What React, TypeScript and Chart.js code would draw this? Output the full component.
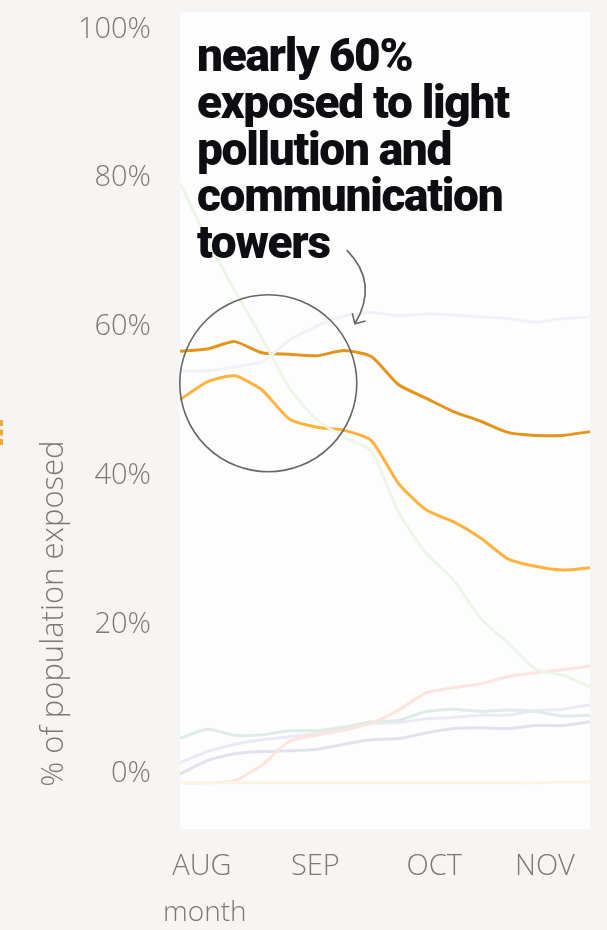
import React, { useEffect, useRef } from "react";
import { Chart, registerables } from "chart.js";

Chart.register(...registerables);

// ---- data ----
const weeks = [0, 1, 2, 3, 4, 5, 6, 7, 8, 9, 10, 11, 12, 13, 14, 15];
const monthLabels = ["AUG", "SEP", "OCT", "NOV"];
const monthTickWeeks = [0.8, 4.95, 9.3, 13.35];
const yTickValues = [0, 20, 40, 60, 80, 100];

const lightPollutionAndTowers = [58.0, 58.3, 59.3, 57.8, 57.6, 57.4, 58.1, 57.3, 53.5, 51.7, 49.9, 48.6, 47.1, 46.7, 46.7, 47.2];
const lightPollutionAndRoads = [51.5, 53.9, 54.7, 52.8, 48.9, 47.8, 47.4, 46.0, 40.2, 36.7, 35.1, 32.9, 30.1, 29.1, 28.6, 28.9];
const greenSeries = [80.6, 73.0, 66.2, 59.8, 53.1, 48.8, 46.5, 44.6, 36.3, 30.9, 27.3, 22.1, 18.8, 15.3, 14.5, 12.9];
const lavenderHigh = [55.3, 55.4, 55.9, 56.6, 59.5, 61.4, 62.7, 63.2, 62.8, 63.0, 62.9, 62.6, 62.4, 61.9, 62.4, 62.6];
const pinkSeries = [0, 0, 0.3, 2.4, 5.6, 6.4, 7.1, 8.0, 9.8, 12.1, 12.8, 13.3, 14.3, 14.8, 15.2, 15.7];
const tealSeries = [6.0, 7.2, 6.4, 6.45, 7.0, 7.0, 7.5, 8.2, 8.4, 9.6, 9.9, 9.6, 9.8, 9.6, 9.0, 9.1];
const lavenderLow = [2.7, 4.2, 5.2, 5.8, 6.2, 6.65, 7.3, 8.0, 8.1, 8.6, 8.8, 9.1, 9.1, 9.7, 9.9, 10.5];
const blueGraySeries = [1.2, 3.0, 3.9, 4.2, 4.3, 4.5, 5.2, 5.8, 5.95, 6.7, 7.3, 7.4, 7.3, 7.7, 7.7, 8.2];
const creamSeries = [0, 0, 0, 0, 0, 0, 0, 0, 0, 0, 0, 0, 0, 0, 0.1, 0.1];

const annotationLines = ["nearly 60%", "exposed to light", "pollution and", "communication", "towers"];
const yAxisTitle = "% of population exposed";
const xAxisTitle = "month";

// annotation geometry in data units (week, percent)
const circleCenter = { x: 3.23, y: 53.7 };
const arrowStart = { x: 6.1, y: 71.6 };
const arrowControl = { x: 7.29, y: 67.2 };
const arrowEnd = { x: 6.4, y: 61.7 };

const GRAY = "#7e7874";
const PAGE_BG = "#f6f5f3";
const PLOT_BG = "#fdfdfd";
const FONT = "'Open Sans'";

const decorPlugin = {
  id: "decor",
  beforeDraw(chart: any) {
    const { ctx, chartArea: a, width, height } = chart;
    ctx.save();
    ctx.fillStyle = PAGE_BG;
    ctx.fillRect(0, 0, width, height);
    ctx.fillStyle = PLOT_BG;
    ctx.fillRect(a.left, a.top, a.right - a.left, a.bottom - a.top);
    ctx.restore();
  },
  afterDatasetsDraw(chart: any) {
    const { ctx } = chart;
    const xs = chart.scales.x;
    const ys = chart.scales.y;
    ctx.save();
    ctx.strokeStyle = "#666666";
    ctx.lineWidth = 1.6;
    // circle
    ctx.beginPath();
    ctx.arc(xs.getPixelForValue(circleCenter.x), ys.getPixelForValue(circleCenter.y), 88.5, 0, Math.PI * 2);
    ctx.stroke();
    // arrow
    const sx = xs.getPixelForValue(arrowStart.x), sy = ys.getPixelForValue(arrowStart.y);
    const cx = xs.getPixelForValue(arrowControl.x), cy = ys.getPixelForValue(arrowControl.y);
    const ex = xs.getPixelForValue(arrowEnd.x), ey = ys.getPixelForValue(arrowEnd.y);
    ctx.beginPath();
    ctx.moveTo(sx, sy);
    ctx.quadraticCurveTo(cx, cy, ex, ey);
    ctx.stroke();
    const ang = Math.atan2(cy - ey, cx - ex);
    const len = 11;
    ctx.beginPath();
    ctx.moveTo(ex + len * Math.cos(ang - 0.78), ey + len * Math.sin(ang - 0.78));
    ctx.lineTo(ex, ey);
    ctx.lineTo(ex + len * Math.cos(ang + 0.78), ey + len * Math.sin(ang + 0.78));
    ctx.stroke();
    ctx.restore();
  },
  afterDraw(chart: any) {
    const { ctx, chartArea: a } = chart;
    const ys = chart.scales.y;
    ctx.save();
    ctx.fillStyle = GRAY;
    ctx.textBaseline = "middle";
    ctx.textAlign = "left";
    // y title
    ctx.save();
    ctx.font = `300 31px ${FONT}`;
    ctx.translate(54, ys.getPixelForValue(0) + 4);
    ctx.rotate(-Math.PI / 2);
    ctx.fillText(yAxisTitle, 0, 0);
    ctx.restore();
    // x title
    ctx.font = `300 28px ${FONT}`;
    ctx.fillText(xAxisTitle, a.left - 17, 913);
    ctx.restore();
  },
};

function ds(label: string, data: number[], color: string) {
  return {
    label,
    data: data.map((v, i) => ({ x: weeks[i], y: v })),
    borderColor: color,
    backgroundColor: color,
    borderWidth: 3,
    pointRadius: 0,
    tension: 0.2,
    fill: false,
  };
}

function zeroPad(scale: any) {
  scale.paddingTop = 0;
  scale.paddingBottom = 0;
  scale.paddingLeft = 0;
  scale.paddingRight = 0;
}

export default function App() {
  const ref = useRef<HTMLCanvasElement | null>(null);

  useEffect(() => {
    document.body.style.margin = "0";
    document.body.style.background = PAGE_BG;
    const canvas = ref.current;
    if (!canvas) return;
    const chart = new Chart(canvas, {
      type: "line",
      data: {
        datasets: [
          ds("cream", creamSeries, "#fcf3e3"),
          ds("green", greenSeries, "#edf5e8"),
          ds("lavender high", lavenderHigh, "#f1f1f8"),
          ds("pink", pinkSeries, "#fde4df"),
          ds("teal", tealSeries, "#ddede5"),
          ds("lavender low", lavenderLow, "#e9eaf5"),
          ds("blue gray", blueGraySeries, "#e0e3ee"),
          ds("light pollution and roads", lightPollutionAndRoads, "#fdb33e"),
          ds("light pollution and towers", lightPollutionAndTowers, "#e3951b"),
        ],
      },
      options: {
        animation: false,
        responsive: false,
        maintainAspectRatio: false,
        events: [],
        layout: { padding: { left: 0, top: 12, right: 17, bottom: 0 } },
        plugins: {
          legend: { display: false },
          tooltip: { enabled: false },
          title: { display: false },
        },
        scales: {
          x: {
            type: "linear",
            min: weeks[0],
            max: weeks[weeks.length - 1],
            grid: { display: false, drawTicks: false },
            border: { display: false },
            afterFit(scale: any) {
              scale.height = 101;
              zeroPad(scale);
            },
            afterBuildTicks(scale: any) {
              scale.ticks = monthTickWeeks.map((v) => ({ value: v }));
            },
            ticks: {
              autoSkip: false,
              maxRotation: 0,
              padding: 20,
              color: GRAY,
              font: { family: FONT, size: 29, weight: "300" },
              callback: (v: any) => {
                const i = monthTickWeeks.indexOf(Number(v));
                return i >= 0 ? monthLabels[i] : "";
              },
            },
          },
          y: {
            type: "linear",
            min: -6.2,
            max: 103.6,
            grid: { display: false, drawTicks: false },
            border: { display: false },
            afterFit(scale: any) {
              scale.width = 180;
              zeroPad(scale);
            },
            afterBuildTicks(scale: any) {
              scale.ticks = yTickValues.map((v) => ({ value: v }));
            },
            ticks: {
              padding: 29,
              labelOffset: -9.5,
              color: GRAY,
              font: { family: FONT, size: 29, weight: "300" },
              callback: (v: any) => `${v}%`,
            },
          },
        },
      },
      plugins: [decorPlugin],
    } as any);
    return () => chart.destroy();
  }, []);

  return (
    <div style={{ position: "relative", width: 607, height: 930, background: PAGE_BG, overflow: "hidden" }}>
      <canvas ref={ref} width={607} height={930} style={{ display: "block", width: 607, height: 930 }} />
      <div
        style={{
          position: "absolute",
          left: 0,
          top: 420,
          height: 25,
          borderLeft: "3px dashed #f2a93b",
        }}
      />
      <div
        style={{
          position: "absolute",
          left: 197,
          top: 32,
          fontFamily: "Roboto, sans-serif",
          fontWeight: 900,
          fontSize: 46,
          lineHeight: "46.75px",
          letterSpacing: "-1.3px",
          color: "#0d0d12",
          whiteSpace: "nowrap",
        }}
      >
        {annotationLines.map((l, i) => (
          <div key={i}>{l}</div>
        ))}
      </div>
    </div>
  );
}
